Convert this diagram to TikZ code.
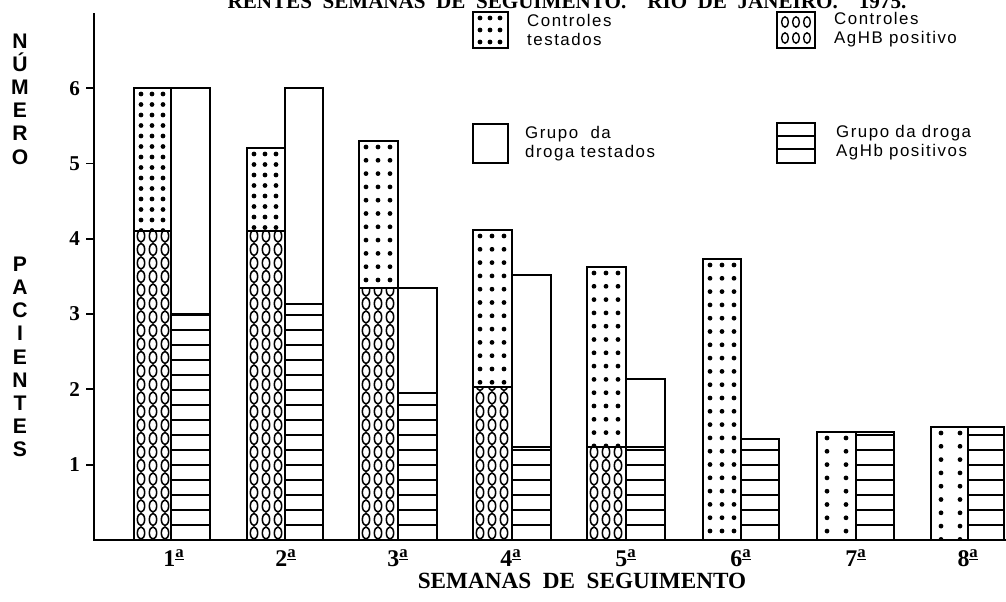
\documentclass[tikz,border=0pt]{standalone}
\usepackage{fontspec}
\setmainfont{Liberation Serif}
\setsansfont{Liberation Sans}
\newfontfamily\legfont{Liberation Sans}[LetterSpace=9]
\usetikzlibrary{positioning}

\tikzset{
  barra/.style={draw, line width=1.3pt},
  eixo/.style={draw, line width=1.3pt},
  caixa/.style={draw, line width=1.3pt, inner sep=0pt},
  rotulo/.style={font=\bfseries\fontsize{15}{15}\selectfont, anchor=east},
  semana/.style={font=\bfseries\fontsize{17}{17}\selectfont, anchor=base},
  legenda/.style={font=\legfont\fontsize{12}{13.5}\selectfont, align=left, anchor=west, inner sep=0pt},
  letras/.style={font=\sffamily\bfseries\fontsize{15}{16.5}\selectfont, align=center}
}

% pontos: esq, dir, topo, base, colunas, passo
\newcommand{\pontos}[6]{%
  \begin{scope}
    \clip (#1,#3) rectangle (#2,#4);
    \foreach \cx in {#5}
      \foreach \k in {0,...,40}
        \fill (#1+\cx,#3+6+#6*\k) circle[radius=1.7pt];
  \end{scope}}
% circulos: esq, dir, topo, base
\newcommand{\circulos}[4]{%
  \begin{scope}
    \clip (#1,#3) rectangle (#2,#4);
    \foreach \cx in {7,19,31}
      \foreach \k in {0,...,25}
        \draw[line width=1.1pt] (#1+\cx,#4-7-13.5*\k) ellipse[x radius=2.6pt, y radius=4.3pt];
  \end{scope}}
% listras: esq, dir, topo
\newcommand{\listras}[3]{%
  \begin{scope}
    \clip (#1,#3) rectangle (#2,540);
    \foreach \k in {1,...,30}
      \draw[line width=1.3pt] (#1,540-15*\k) -- (#2,540-15*\k);
  \end{scope}}

\begin{document}
\begin{tikzpicture}[x=0.025cm, y=-0.025cm]
  \useasboundingbox (0,0) rectangle (1006,601);

  % titulo cortado
  \node[font=\bfseries\fontsize{15}{15}\selectfont, anchor=base] (titulo) at (567,8)
    {RENTES\ \ SEMANAS\ \ DE\ \ SEGUIMENTO.\ \ \ \ RIO\ \ DE\ \ JANEIRO.\ \ \ \ 1975.};

  % semana 1
  \pontos{134}{171}{88}{231}{7,18,29}{10.5}
  \circulos{134}{171}{231}{540}
  \listras{171}{210}{314}
  \draw[barra] (134,88) rectangle (171,540);
  \draw[barra] (134,231) -- (171,231);
  \draw[barra] (171,88) rectangle (210,540);
  \draw[barra] (171,314) -- (210,314);

  % semana 2
  \pontos{247}{285}{148}{231}{7,18,29}{10.5}
  \circulos{247}{285}{231}{540}
  \listras{285}{323}{304}
  \draw[barra] (247,148) rectangle (285,540);
  \draw[barra] (247,231) -- (285,231);
  \draw[barra] (285,88) rectangle (323,540);
  \draw[barra] (285,304) -- (323,304);

  % semana 3
  \pontos{359}{398}{141}{288}{7,19,31}{13.3}
  \circulos{359}{398}{288}{540}
  \listras{398}{437}{393}
  \draw[barra] (359,141) rectangle (398,540);
  \draw[barra] (359,288) -- (398,288);
  \draw[barra] (398,288) rectangle (437,540);
  \draw[barra] (398,393) -- (437,393);

  % semana 4
  \pontos{473}{512}{230}{387}{7,19,31}{13.3}
  \circulos{473}{512}{387}{540}
  \listras{512}{551}{447}
  \draw[barra] (473,230) rectangle (512,540);
  \draw[barra] (473,387) -- (512,387);
  \draw[barra] (512,275) rectangle (551,540);
  \draw[barra] (512,447) -- (551,447);

  % semana 5
  \pontos{587}{626}{267}{447}{7,19,31}{13.3}
  \circulos{587}{626}{447}{540}
  \listras{626}{665}{447}
  \draw[barra] (587,267) rectangle (626,540);
  \draw[barra] (587,447) -- (626,447);
  \draw[barra] (626,379) rectangle (665,540);
  \draw[barra] (626,447) -- (665,447);

  % semana 6
  \pontos{703}{741}{259}{540}{7,19,31}{13.3}
  \listras{741}{779}{439}
  \draw[barra] (703,259) rectangle (741,540);
  \draw[barra] (741,439) rectangle (779,540);

  % semana 7
  \pontos{817}{856}{432}{540}{10,29}{13.3}
  \listras{856}{894}{432}
  \draw[barra] (817,432) rectangle (856,540);
  \draw[barra] (856,432) rectangle (894,540);

  % semana 8
  \pontos{931}{968}{427}{540}{10,29}{13.3}
  \listras{968}{1004}{427}
  \draw[barra] (931,427) rectangle (968,540);
  \draw[barra] (968,427) rectangle (1004,540);

  % eixos
  \draw[eixo] (94,13) -- (94,540) -- (1006,540);
  \foreach \v in {1,...,6} {
    \draw[eixo] (86,540-75.3*\v) -- (94,540-75.3*\v);
    \node[rotulo] (t\v) at (85,540-75.3*\v) {\v};
  }
  \foreach \x/\n in {174/1, 286/2, 398/3, 511/4, 626/5, 741/6, 856/7, 968/8}
    \node[semana] (s\n) at (\x,566) {\n\textsuperscript{\underline{a}}};

  \node[font=\bfseries\fontsize{16.5}{16.5}\selectfont] (eixox) at (582,581)
    {SEMANAS\ \ DE\ \ SEGUIMENTO};
  \node[letras] (numero) at (20,99) {N\\Ú\\M\\E\\R\\O};
  \node[letras] (pacientes) at (20,357) {P\\A\\C\\I\\E\\N\\T\\E\\S};

  % legenda
  \pontos{473}{508}{12}{48}{7,17,27}{12}
  \node[caixa, minimum width=0.875cm, minimum height=0.9cm] (leg1) at (490.5,30) {};
  \node[legenda, right=0.45cm of leg1] (leg1txt) {Controles\\testados};

  \foreach \cx in {785,796,807}
    \foreach \cy in {22,38}
      \draw[line width=1pt] (\cx,\cy) ellipse[x radius=2.4pt, y radius=3.7pt];
  \node[caixa, minimum width=0.95cm, minimum height=0.9cm] (leg2) at (796,30) {};
  \node[legenda, right=0.45cm of leg2] (leg2txt) {Controles\\AgHB positivo};

  \node[caixa, minimum width=0.875cm, minimum height=0.975cm] (leg3) at (490.5,143.5) {};
  \node[legenda, right=0.4cm of leg3] (leg3txt) {Grupo\ \ da\\droga testados};

  \node[caixa, minimum width=0.95cm, minimum height=1cm] (leg4) at (796,143) {};
  \draw[line width=1.3pt] (leg4.west |- 0,136) -- (leg4.east |- 0,136);
  \draw[line width=1.3pt] (leg4.west |- 0,149) -- (leg4.east |- 0,149);
  \node[legenda, right=0.5cm of leg4] (leg4txt) {Grupo da droga\\AgHb positivos};
\end{tikzpicture}
\end{document}
